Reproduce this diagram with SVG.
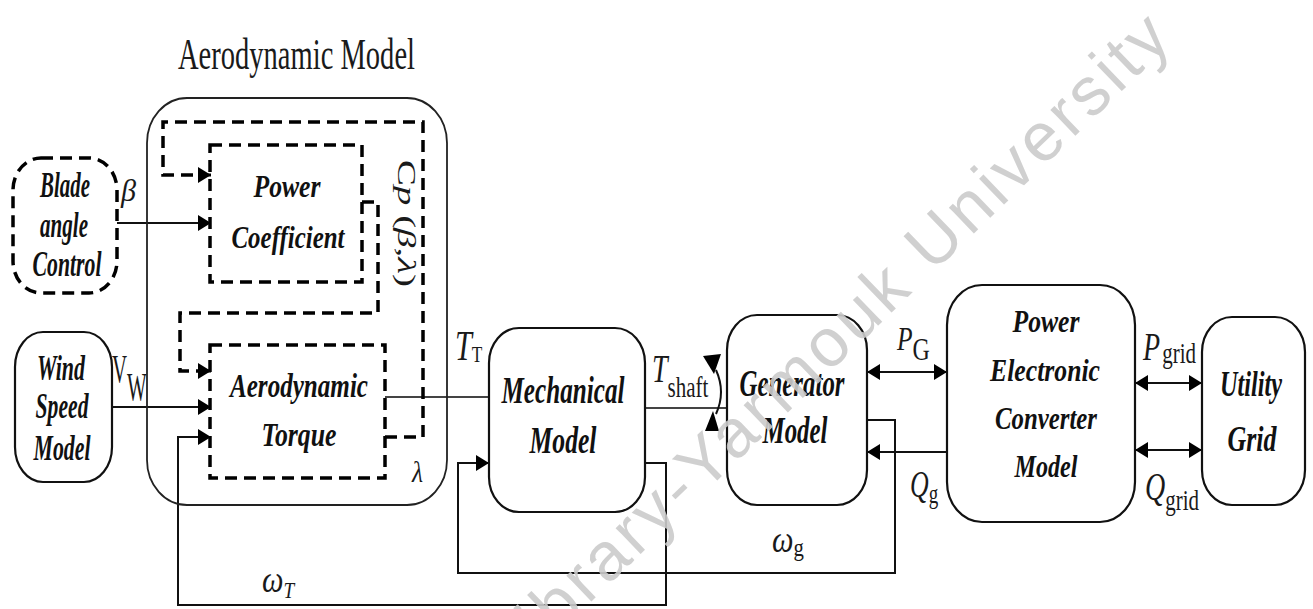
<svg xmlns="http://www.w3.org/2000/svg" width="1313" height="609" viewBox="0 0 1313 609">
<defs>
<marker id="ah" markerUnits="userSpaceOnUse" viewBox="0 0 14 16" markerWidth="14" markerHeight="16" refX="13" refY="8" orient="auto-start-reverse"><path d="M0,0 L13,8 L0,16 z" fill="#000"/></marker>
</defs>
<style>
.box{fill:#fff;stroke:#111;stroke-width:2.2}
.dbox{fill:none;stroke:#000;stroke-width:3.5;stroke-dasharray:12 7}
.dl{fill:none;stroke:#000;stroke-width:3.5;stroke-dasharray:12 7}
.ln{fill:none;stroke:#111;stroke-width:2}
.lbl{font-family:"Liberation Serif","Times New Roman",serif;font-weight:bold;font-style:italic;fill:#111;text-anchor:middle}
.m{font-family:"Liberation Serif","Times New Roman",serif;fill:#1a1a1a}
.i{font-style:italic}
.wm{font-family:"Liberation Sans",Arial,sans-serif;fill:#cbcbcb}
</style>
<rect width="1313" height="609" fill="#fff"/>

<g id="connectors">
<path class="ln" d="M117,223 H211" marker-end="url(#ah)"/>
<path class="ln" d="M112,407 H211" marker-end="url(#ah)"/>
<path class="ln" style="stroke:#444" d="M385,397 H489"/>
<path class="ln" d="M645,463 H666 V605 H178 V437 H211" marker-end="url(#ah)"/>
<path class="ln" d="M867,420 H895 V573 H458 V463 H489" marker-end="url(#ah)"/>
<path class="ln" style="stroke:#444" d="M645,408 H727"/>
<path class="ln" d="M867,372 H947" marker-start="url(#ah)" marker-end="url(#ah)"/>
<path class="ln" d="M947,452 H867" marker-end="url(#ah)"/>
<path class="ln" d="M1135,383 H1202" marker-start="url(#ah)" marker-end="url(#ah)"/>
<path class="ln" d="M1135,450 H1202" marker-start="url(#ah)" marker-end="url(#ah)"/>
<path class="dl" d="M385,437 H423 V122 H163 V175 H205"/>
<path d="M198,175 H211" stroke="#000" stroke-width="3" marker-end="url(#ah)"/>
<path class="dl" d="M362,202 H378 V313 H180 V371 H205"/>
<path d="M198,371 H211" stroke="#000" stroke-width="3" marker-end="url(#ah)"/>
<path class="ln" d="M716,370 Q726,392 716,414"/>
<polygon points="703,356 721,354 714,374" fill="#000"/>
<polygon points="705,431 719,431 713,411" fill="#000"/>
<text class="m i" x="121" y="201" font-size="32" textLength="15" lengthAdjust="spacingAndGlyphs">β</text>
<text class="m" transform="translate(112,382) scale(0.52,1)" font-size="40">V<tspan dy="18">W</tspan></text>
<text class="m" transform="translate(398,160) rotate(90) scale(1,0.66)" font-size="38" textLength="127" lengthAdjust="spacingAndGlyphs">C<tspan class="i">p</tspan> (<tspan class="i">β</tspan>,<tspan class="i">λ</tspan>)</text>
<text class="m i" x="412" y="482" font-size="30" textLength="11" lengthAdjust="spacingAndGlyphs">λ</text>
<text class="m" transform="translate(455,360) scale(0.72,1)" font-size="42"><tspan class="i">T</tspan><tspan font-size="24" dy="2">T</tspan></text>
<text class="m" transform="translate(652,382) scale(0.7,1)" font-size="40"><tspan class="i">T</tspan><tspan font-size="30" dy="15">shaft</tspan></text>
<text class="m" transform="translate(897,350) scale(0.75,1)" font-size="34"><tspan class="i">P</tspan><tspan font-size="32" dy="10">G</tspan></text>
<text class="m" transform="translate(910,497) scale(0.68,1)" font-size="38"><tspan class="i">Q</tspan><tspan font-size="28" dy="6">g</tspan></text>
<text class="m" transform="translate(1143,360) scale(0.7,1)" font-size="40"><tspan class="i">P</tspan><tspan font-size="30" dx="3" dy="3">grid</tspan></text>
<text class="m" transform="translate(1145,500) scale(0.7,1)" font-size="40"><tspan class="i">Q</tspan><tspan font-size="30" dy="10">grid</tspan></text>
<text class="m i" transform="translate(262,592) scale(0.8,1)" font-size="38">ω<tspan font-size="24" dy="6">T</tspan></text>
<text class="m" transform="translate(772,552) scale(0.8,1)" font-size="38"><tspan class="i">ω</tspan><tspan font-size="26" dy="4">g</tspan></text>
</g>

<g id="aerodynamic-model">
<rect x="147" y="98" width="300" height="407" rx="40" ry="45" fill="none" stroke="#222" stroke-width="1.8"/>
<text class="m" x="178" y="69" font-size="45" textLength="237" lengthAdjust="spacingAndGlyphs" fill="#1c1c2a">Aerodynamic Model</text>
</g>

<g id="blade-angle-control">
<rect class="dbox" x="13" y="158" width="104" height="135" rx="28" ry="32"/>
<text class="lbl" x="65" y="197" font-size="35" textLength="50" lengthAdjust="spacingAndGlyphs">Blade</text>
<text class="lbl" x="64" y="237" font-size="35" textLength="48" lengthAdjust="spacingAndGlyphs">angle</text>
<text class="lbl" x="67" y="276" font-size="35" textLength="69" lengthAdjust="spacingAndGlyphs">Control</text>
</g>

<g id="wind-speed-model">
<rect class="box" x="15" y="332" width="97" height="150" rx="28" ry="35"/>
<text class="lbl" x="61" y="380" font-size="35" textLength="48" lengthAdjust="spacingAndGlyphs">Wind</text>
<text class="lbl" x="62" y="418" font-size="35" textLength="53" lengthAdjust="spacingAndGlyphs">Speed</text>
<text class="lbl" x="62" y="460" font-size="35" textLength="57" lengthAdjust="spacingAndGlyphs">Model</text>
</g>

<g id="power-coefficient">
<rect class="dbox" x="210" y="145" width="152" height="137"/>
<text class="lbl" x="287" y="197" font-size="31" textLength="67" lengthAdjust="spacingAndGlyphs">Power</text>
<text class="lbl" x="288" y="248" font-size="31" textLength="113" lengthAdjust="spacingAndGlyphs">Coefficient</text>
</g>

<g id="aerodynamic-torque">
<rect class="dbox" x="210" y="345" width="175" height="133"/>
<text class="lbl" x="299" y="397" font-size="33" textLength="138" lengthAdjust="spacingAndGlyphs">Aerodynamic</text>
<text class="lbl" x="299" y="446" font-size="33" textLength="75" lengthAdjust="spacingAndGlyphs">Torque</text>
</g>

<g id="mechanical-model">
<rect class="box" x="489" y="328" width="156" height="184" rx="30" ry="35"/>
<text class="lbl" x="563" y="403" font-size="37" textLength="123" lengthAdjust="spacingAndGlyphs">Mechanical</text>
<text class="lbl" x="563" y="453" font-size="37" textLength="67" lengthAdjust="spacingAndGlyphs">Model</text>
</g>

<g id="generator-model">
<rect class="box" x="727" y="315" width="140" height="190" rx="30" ry="35"/>
<text class="lbl" x="792" y="396" font-size="37" textLength="105" lengthAdjust="spacingAndGlyphs">Generator</text>
<text class="lbl" x="795" y="443" font-size="37" textLength="65" lengthAdjust="spacingAndGlyphs">Model</text>
</g>

<g id="power-electronic-converter-model">
<rect class="box" x="947" y="285" width="188" height="237" rx="35" ry="40"/>
<text class="lbl" x="1046" y="332" font-size="32" textLength="67" lengthAdjust="spacingAndGlyphs">Power</text>
<text class="lbl" x="1045" y="381" font-size="32" textLength="110" lengthAdjust="spacingAndGlyphs">Electronic</text>
<text class="lbl" x="1046" y="429" font-size="32" textLength="102" lengthAdjust="spacingAndGlyphs">Converter</text>
<text class="lbl" x="1046" y="477" font-size="32" textLength="63" lengthAdjust="spacingAndGlyphs">Model</text>
</g>

<g id="utility-grid">
<rect class="box" x="1202" y="317" width="103" height="188" rx="30" ry="35"/>
<text class="lbl" x="1251" y="396" font-size="35" textLength="62" lengthAdjust="spacingAndGlyphs">Utility</text>
<text class="lbl" x="1252" y="451" font-size="35" textLength="49" lengthAdjust="spacingAndGlyphs">Grid</text>
</g>

<text class="wm" transform="translate(514,676) rotate(-43.9)" font-size="68" letter-spacing="4" fill-opacity="0.9">Library-Yarmouk University</text>
</svg>
